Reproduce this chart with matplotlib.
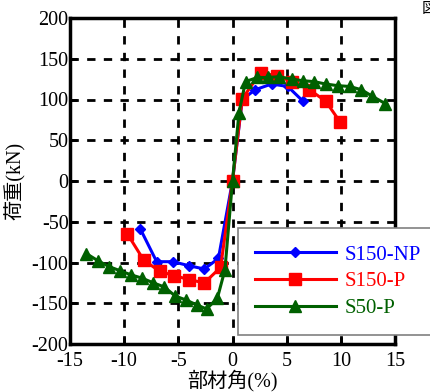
import matplotlib
matplotlib.use("Agg")
import matplotlib.pyplot as plt

# S150-NP
np_x = [-8.5, -7.0, -5.5, -4.0, -2.6, -1.3, 0.0, 0.9, 2.1, 3.6, 5.1, 6.5]
np_y = [-59, -99, -99, -104, -108, -95, 0, 100, 112, 119, 116, 98]
# S150-P
p_x = [-9.7, -8.2, -6.7, -5.4, -4.0, -2.6, -1.1, 0.0, 0.9, 2.6, 4.1, 5.5, 7.1, 8.6, 9.9]
p_y = [-65, -97, -111, -116, -121, -125, -106, 0, 101, 133, 129, 122, 112, 98, 73]
# S50-P
g_x = [-13.5, -12.4, -11.4, -10.4, -9.4, -8.4, -7.3, -6.3, -5.3, -4.3, -3.3, -2.4, -1.4, -0.7,
       0.0, 0.6, 1.2, 2.3, 3.3, 4.3, 5.5, 6.5, 7.5, 8.6, 9.7, 10.8, 11.9, 12.9, 14.1]
g_y = [-89, -98, -105, -110, -115, -119, -125, -130, -141, -146, -152, -157, -144, -109,
       0, 84, 122, 127, 127, 128, 125, 123, 122, 119, 117, 116, 112, 104, 95]

xticks = [-15, -10, -5, 0, 5, 10, 15]
yticks = [-200, -150, -100, -50, 0, 50, 100, 150, 200]

serif = ["Liberation Serif", "DejaVu Serif"]
cjk = ["Liberation Serif", "Noto Sans CJK JP", "DejaVu Sans"]

fig = plt.figure(figsize=(4.30, 3.92), dpi=100)
ax = fig.add_axes([70/430, 48/392, 325/430, 326/392])

ax.plot(np_x, np_y, color="#0000ff", marker="D", markersize=5, lw=2.2, label="S150-NP", zorder=3)
ax.plot(p_x, p_y, color="#ff0000", marker="s", markersize=9, lw=2.2, label="S150-P", zorder=4)
ax.plot(g_x, g_y, color="#006000", marker="^", markersize=8, lw=2.2, label="S50-P", zorder=5)

ax.set_xlim(-15, 15)
ax.set_ylim(-200, 200)
ax.set_xticks(xticks)
ax.set_yticks(yticks)
ax.set_xticklabels([str(t) for t in xticks], fontfamily=serif, fontsize=14.5)
ax.set_yticklabels([str(t) for t in yticks], fontfamily=serif, fontsize=14.5)
ax.tick_params(direction="in", length=5, width=2)
ax.tick_params(axis="x", pad=6)
ax.tick_params(axis="y", pad=1)
ax.grid(True, color="black", linestyle=(0, (3, 3)), linewidth=2)
ax.set_axisbelow(True)
for s in ax.spines.values():
    s.set_linewidth(2.5)

ax.set_xlabel("部材角(%)", fontfamily=cjk, fontsize=14.5, labelpad=-1)
ax.set_ylabel("荷重(kN)", fontfamily=cjk, fontsize=14.5, labelpad=4)

leg = ax.legend(loc="lower left", bbox_to_anchor=(238/430, 57/392), bbox_transform=fig.transFigure,
                prop={"family": serif, "size": 15}, handlelength=3.9, fancybox=False,
                edgecolor="#808080", framealpha=1, borderpad=0.8, labelspacing=0.35,
                handletextpad=0.4, borderaxespad=0)
leg.get_frame().set_linewidth(1.2)
for txt, c in zip(leg.get_texts(), ["#0000ff", "#ff0000", "#006000"]):
    txt.set_color(c)

fig.text(422/430, 1.0, "図", fontfamily=["Noto Sans CJK JP"], fontsize=11, va="top", ha="left")

fig.savefig("out.png", dpi=100)
